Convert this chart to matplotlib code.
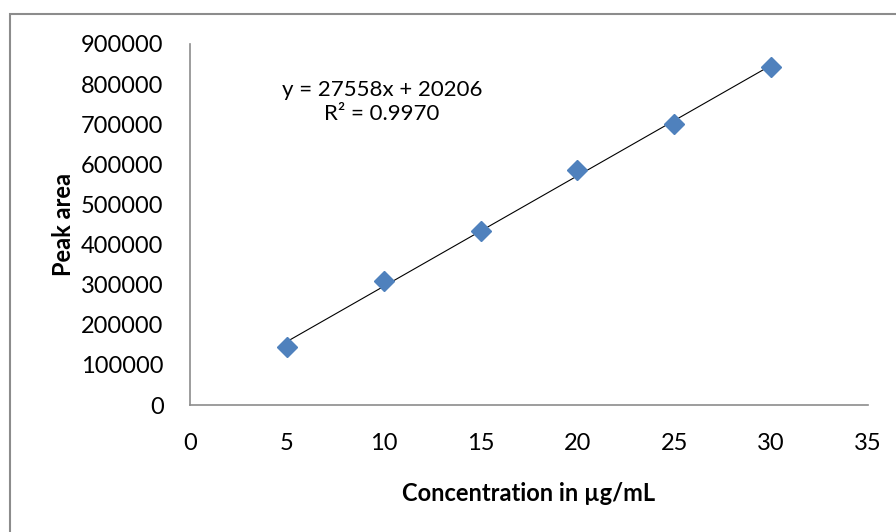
import matplotlib.pyplot as plt
from matplotlib.patches import Rectangle
import numpy as np

conc = [5, 10, 15, 20, 25, 30]
peak_area = [145000, 308000, 433000, 585000, 700000, 843000]

slope = 27558
intercept = 20206
r_squared = 0.9970

x_ticks = [0, 5, 10, 15, 20, 25, 30, 35]
y_ticks = [0, 100000, 200000, 300000, 400000, 500000, 600000, 700000, 800000, 900000]

plt.rcParams['font.family'] = ['Lato', 'DejaVu Sans']

fig = plt.figure(figsize=(8.96, 5.32), dpi=100)
# outer chart frame (only top/left edges visible in the crop)
fig.patches.append(Rectangle((10 / 896, -0.1), 1.2, (532 - 14) / 532 + 0.1,
                             transform=fig.transFigure, fill=False,
                             edgecolor='#8c8c8c', linewidth=1.5))

ax = fig.add_axes([190 / 896, (532 - 405) / 532, (868 - 190) / 896, (405 - 44) / 532])

fit_x = np.array([min(conc), max(conc)])
ax.plot(fit_x, slope * fit_x + intercept, color='black', linewidth=0.8, zorder=2)
ax.plot(conc, peak_area, linestyle='none', marker='D', markersize=10,
        color='#4F81BD', zorder=3)

ax.text(9.9, 756000, f"y = {slope}x + {intercept}\nR² = {r_squared:.4f}",
        ha='center', va='center', fontsize=16, linespacing=1.25)

ax.set_xlim(0, 35)
ax.set_ylim(0, 900000)
ax.set_xticks(x_ticks)
ax.set_yticks(y_ticks)
ax.tick_params(axis='both', length=0, labelsize=17)
ax.tick_params(axis='x', pad=20)
ax.tick_params(axis='y', pad=19)

for side in ['top', 'right']:
    ax.spines[side].set_visible(False)
for side in ['left', 'bottom']:
    ax.spines[side].set_color('#8c8c8c')
    ax.spines[side].set_linewidth(1.2)

ax.set_xlabel("Concentration in µg/mL", fontsize=17, fontweight='bold', labelpad=20)
ax.set_ylabel("Peak area", fontsize=17, fontweight='bold', labelpad=4)

fig.savefig("out.png", dpi=100)
